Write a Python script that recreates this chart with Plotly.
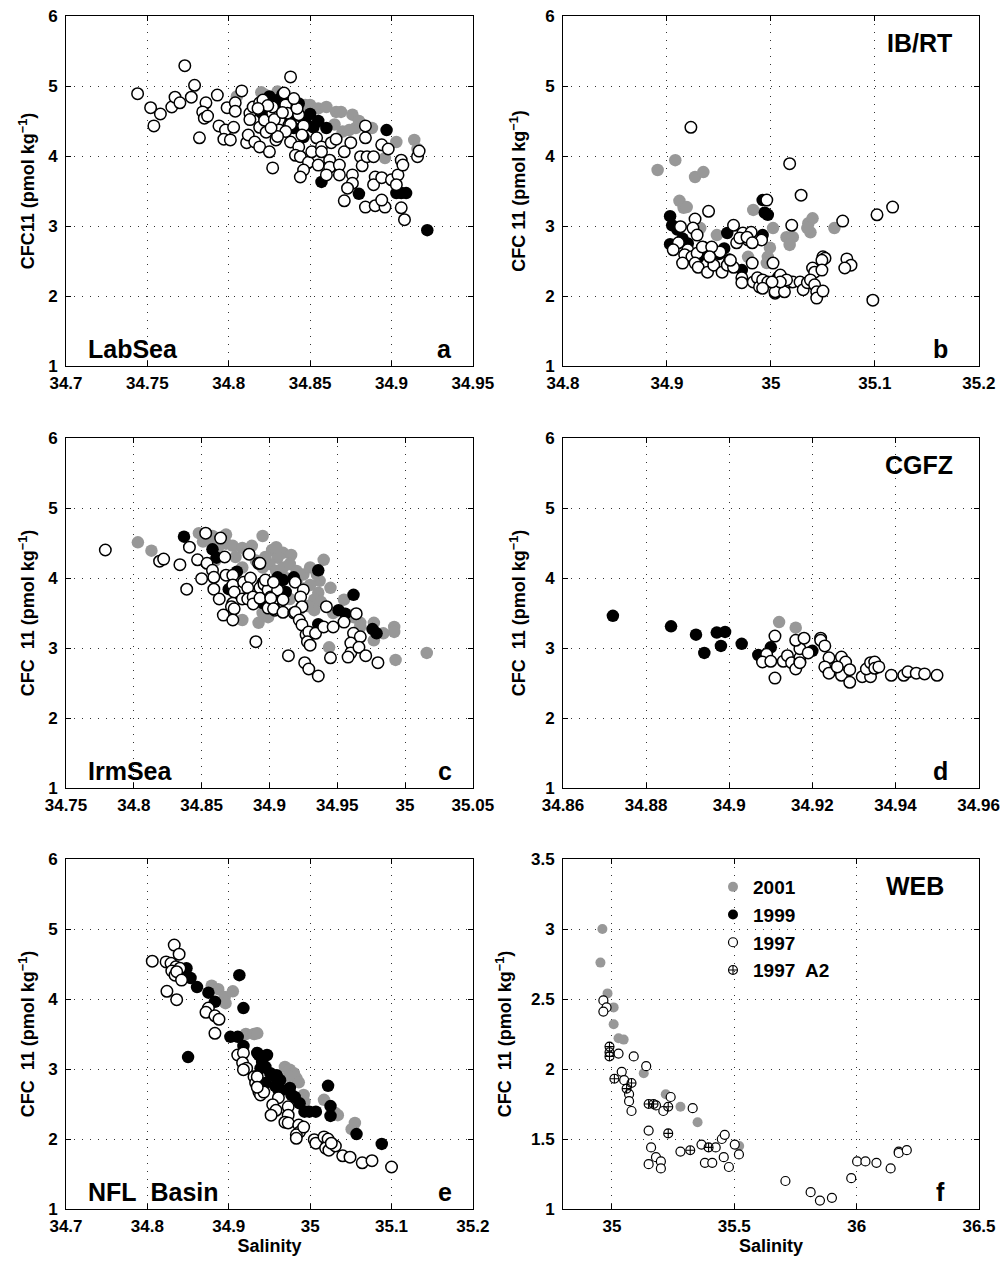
import plotly.graph_objects as go

# ---------------- data (salinity, CFC-11) ----------------
a_2001 = [(34.866,4.63),(34.869,4.63),(34.876,4.59),(34.874,4.37),(34.878,4.40),(34.888,4.40),(34.846,4.40),
          (34.850,4.73),(34.847,4.73),(34.903,4.20),(34.914,4.23),(34.916,4.10),(34.896,3.97),(34.835,4.75),
          (34.820,4.91),(34.805,4.85),(34.822,4.88),(34.855,4.68),(34.860,4.70),(34.842,4.72),(34.830,4.92),
          (34.870,4.35),(34.865,4.45),(34.880,4.50)]
a_1999 = [(34.897,4.37),(34.860,4.40),(34.852,4.41),(34.846,4.27),(34.857,3.63),(34.880,3.46),(34.903,3.47),
          (34.906,3.47),(34.909,3.47),(34.922,2.94),(34.825,4.85),(34.830,4.80),(34.835,4.75),(34.828,4.65),
          (34.840,4.60),(34.845,4.55),(34.838,4.50),(34.820,4.62),(34.832,4.70),(34.850,4.60),(34.848,4.45),
          (34.843,4.75),(34.855,4.50),(34.822,4.55),(34.833,4.88),(34.840,4.40)]
a_1997 = [(34.773,5.29),(34.744,4.89),(34.779,5.01),(34.752,4.69),(34.758,4.60),(34.754,4.43),(34.765,4.70),
          (34.767,4.84),(34.770,4.76),(34.777,4.84),(34.786,4.76),(34.784,4.63),(34.785,4.54),(34.787,4.57),
          (34.782,4.26),(34.793,4.87),(34.794,4.43),(34.798,4.37),(34.797,4.24),(34.801,4.23),(34.803,4.41),
          (34.799,4.69),(34.808,4.93),(34.804,4.76),(34.804,4.64),(34.811,4.19),(34.812,4.30),(34.816,4.20),
          (34.819,4.13),(34.825,4.06),(34.827,3.83),(34.813,4.61),(34.815,4.70),(34.819,4.76),(34.819,4.41),
          (34.822,4.51),(34.823,4.34),(34.827,4.61),(34.829,4.23),(34.838,5.13),(34.834,4.90),(34.827,4.70),
          (34.835,4.73),(34.836,4.61),(34.843,4.59),(34.837,4.44),(34.831,4.37),(34.838,4.20),(34.846,4.43),
          (34.843,4.13),(34.841,4.01),(34.844,3.99),(34.849,3.91),(34.846,3.80),(34.844,3.70),(34.851,4.06),
          (34.854,4.26),(34.857,4.13),(34.857,4.06),(34.855,3.87),(34.862,3.94),(34.862,3.84),(34.860,3.73),
          (34.868,3.87),(34.868,3.73),(34.863,4.19),(34.866,4.24),(34.871,4.06),(34.875,4.19),(34.876,3.73),
          (34.876,3.61),(34.873,3.54),(34.871,3.36),(34.881,3.99),(34.882,3.86),(34.885,3.99),(34.889,3.99),
          (34.884,4.26),(34.884,4.43),(34.884,3.27),(34.890,3.29),(34.890,3.70),(34.889,3.59),(34.894,3.69),
          (34.894,4.16),(34.896,3.27),(34.894,3.37),(34.898,4.10),(34.900,3.66),(34.904,3.73),(34.903,3.59),
          (34.906,3.94),(34.907,3.87),(34.906,3.26),(34.908,3.09),(34.916,3.99),(34.917,4.07),(34.821,4.80),
          (34.828,4.52),(34.833,4.62),(34.838,4.45),(34.824,4.72),(34.842,4.68),(34.845,4.30),(34.835,4.35),
          (34.830,4.28),(34.840,4.82),(34.826,4.40),(34.818,4.68),(34.813,4.52)]

b_2001 = [(34.891,3.80),(34.908,3.94),(34.927,3.70),(34.935,3.77),(34.912,3.36),(34.916,3.26),(34.919,3.27),
          (34.983,3.23),(35.002,2.97),(34.999,2.69),(34.997,2.56),(34.948,2.87),(34.932,2.97),(34.978,2.56),
          (35.015,2.84),(35.021,2.84),(35.018,2.73),(35.036,3.04),(35.040,3.11),(35.038,2.91),(35.035,2.97),
          (35.061,2.97),(34.996,2.47)]
b_1999 = [(34.903,3.14),(34.905,3.01),(34.903,2.74),(34.958,2.90),(34.992,3.37),(34.994,3.19),(34.997,3.16),
          (34.992,2.87),(34.972,2.37),(35.007,2.27),(34.910,2.95),(34.920,2.75),(34.935,2.70),(34.945,2.65),
          (34.940,2.58),(34.950,2.60),(34.930,2.55),(34.960,2.52),(34.955,2.68),(34.915,2.82)]
b_1997 = [(34.923,4.41),(34.940,3.21),(34.927,3.10),(34.913,2.99),(34.925,2.97),(34.929,2.87),(34.964,3.01),
          (34.973,2.90),(34.981,2.91),(34.978,2.80),(34.991,2.80),(34.996,3.37),(34.911,2.76),(34.906,2.66),
          (34.920,2.66),(34.917,2.59),(34.924,2.56),(34.929,2.61),(34.934,2.70),(34.915,2.47),(34.927,2.47),
          (34.930,2.41),(34.939,2.34),(34.945,2.44),(34.953,2.34),(34.958,2.44),(34.964,2.41),(34.967,2.76),
          (34.961,2.51),(34.951,2.63),(34.943,2.70),(34.941,2.56),(34.970,2.83),(34.977,2.84),(34.982,2.76),
          (34.972,2.26),(34.972,2.19),(34.982,2.47),(34.983,2.20),(34.987,2.26),(34.989,2.13),(34.992,2.23),
          (34.997,2.20),(35.004,2.04),(35.002,2.47),(35.018,3.89),(35.029,3.44),(35.020,3.01),(35.069,3.07),
          (35.102,3.16),(35.117,3.27),(35.098,1.94),(35.050,2.56),(35.052,2.54),(35.049,2.51),(35.073,2.53),
          (35.077,2.44),(35.071,2.40),(35.040,2.40),(35.042,2.34),(35.049,2.37),(35.009,2.30),(35.004,2.06),
          (35.013,2.06),(35.018,2.20),(35.021,2.20),(35.015,2.23),(35.009,2.20),(35.001,2.20),(34.992,2.11),
          (35.028,2.20),(35.031,2.09),(35.035,2.19),(35.038,2.23),(35.042,2.16),(35.044,2.06),(35.044,1.97),
          (35.050,2.07)]

c_2001 = [(34.803,4.51),(34.813,4.39),(34.848,4.64),(34.858,4.60),(34.868,4.62),(34.851,4.52),(34.857,4.52),
          (34.868,4.49),(34.862,4.43),(34.873,4.46),(34.880,4.43),(34.887,4.46),(34.895,4.60),(34.884,4.36),
          (34.902,4.40),(34.910,4.36),(34.906,4.29),(34.916,4.33),(34.905,4.44),(34.892,3.36),(34.940,4.26),
          (34.937,3.96),(34.945,3.86),(34.936,3.79),(34.933,3.69),(34.938,3.66),(34.933,3.54),(34.955,3.69),
          (34.947,3.50),(34.962,3.44),(34.967,3.36),(34.967,3.30),(34.977,3.36),(34.984,3.21),(34.992,3.30),
          (34.992,3.23),(34.977,3.11),(34.944,3.01),(34.993,2.83),(35.016,2.93),(34.901,3.59),(34.899,3.44),
          (34.890,4.25),(34.895,4.15),(34.900,4.20),(34.905,4.10),(34.910,4.15),(34.915,4.20),(34.920,4.10),
          (34.925,4.05),(34.930,4.15),(34.920,3.95),(34.925,3.85),(34.930,3.90),(34.915,3.70),(34.910,3.80),
          (34.905,3.90),(34.935,4.05),(34.880,4.15),(34.875,4.30),(34.860,4.25),(34.897,4.30),(34.912,4.00),
          (34.928,3.60),(34.922,3.55),(34.900,3.75),(34.895,3.50),(34.880,3.40)]
c_1999 = [(34.837,4.59),(34.858,4.41),(34.861,4.29),(34.876,4.09),(34.870,3.84),(34.895,3.64),(34.906,4.01),
          (34.918,4.01),(34.936,4.11),(34.895,3.93),(34.897,3.94),(34.912,3.80),(34.951,3.54),(34.956,3.49),
          (34.962,3.76),(34.936,3.34),(34.976,3.27),(34.979,3.21),(34.910,3.97),(34.903,3.60)]
c_1997 = [(34.779,4.40),(34.819,4.24),(34.822,4.27),(34.834,4.19),(34.839,3.84),(34.853,4.64),(34.841,4.44),
          (34.864,4.57),(34.847,4.26),(34.854,4.21),(34.858,4.11),(34.859,4.01),(34.850,3.99),(34.859,3.84),
          (34.863,3.70),(34.867,4.30),(34.868,4.04),(34.873,4.04),(34.873,3.90),(34.874,3.80),(34.873,3.64),
          (34.872,3.59),(34.874,3.56),(34.866,3.47),(34.873,3.40),(34.885,4.34),(34.892,4.21),(34.881,3.94),
          (34.886,4.00),(34.884,3.86),(34.880,3.70),(34.884,3.70),(34.888,3.73),(34.888,3.63),(34.893,3.86),
          (34.893,3.71),(34.896,3.91),(34.899,3.83),(34.899,3.57),(34.901,3.73),(34.904,3.54),(34.903,3.69),
          (34.906,3.83),(34.890,3.09),(34.893,4.21),(34.897,3.97),(34.903,3.94),(34.901,3.71),(34.910,3.69),
          (34.903,3.56),(34.910,3.51),(34.918,3.50),(34.919,3.94),(34.925,3.83),(34.923,3.73),(34.924,3.59),
          (34.919,3.51),(34.922,3.40),(34.924,3.33),(34.927,3.19),(34.929,3.23),(34.928,3.09),(34.930,3.04),
          (34.934,3.21),(34.940,3.30),(34.947,3.30),(34.942,3.59),(34.955,3.37),(34.964,3.49),(34.962,3.21),
          (34.967,3.16),(34.960,3.07),(34.960,2.93),(34.958,2.87),(34.966,3.01),(34.971,2.89),(34.980,2.79),
          (34.945,2.86),(34.926,2.79),(34.929,2.70),(34.914,2.89),(34.936,2.60)]

d_2001 = [(34.912,3.37),(34.916,3.29)]
d_1999 = [(34.872,3.46),(34.886,3.31),(34.892,3.19),(34.894,2.93),(34.897,3.22),(34.899,3.23),(34.898,3.03),
          (34.903,3.06),(34.907,2.90),(34.910,3.01),(34.920,2.96)]
d_1997 = [(34.911,3.17),(34.909,2.91),(34.908,2.80),(34.910,2.81),(34.911,2.57),(34.913,2.81),(34.914,2.89),
          (34.915,2.79),(34.916,2.70),(34.917,2.80),(34.917,2.86),(34.917,2.99),(34.916,3.11),(34.918,3.14),
          (34.919,2.93),(34.917,2.79),(34.922,3.14),(34.922,3.11),(34.923,3.03),(34.924,2.86),(34.923,2.73),
          (34.924,2.64),(34.926,2.73),(34.927,2.87),(34.928,2.80),(34.927,2.61),(34.929,2.69),(34.929,2.51),
          (34.926,2.73),(34.932,2.59),(34.934,2.59),(34.933,2.70),(34.934,2.79),(34.935,2.80),(34.935,2.71),
          (34.936,2.73),(34.939,2.61),(34.942,2.61),(34.943,2.66),(34.945,2.64),(34.947,2.63),(34.950,2.61)]

e_2001 = [(34.879,4.19),(34.887,4.14),(34.895,4.03),(34.896,3.94),(34.905,4.11),(34.921,3.50),(34.931,3.50),
          (34.935,3.51),(34.969,3.03),(34.975,2.99),(34.980,2.94),(34.983,2.87),(34.986,2.81),(34.973,2.89),
          (34.992,2.63),(34.993,2.53),(35.017,2.56),(35.031,2.37),(35.034,2.34),(35.055,2.23),(35.051,2.14)]
e_1999 = [(34.846,4.41),(34.848,4.44),(34.853,4.30),(34.861,4.17),(34.875,4.09),(34.883,3.96),(34.913,4.34),
          (34.918,3.87),(34.850,3.17),(34.902,3.46),(34.911,3.46),(34.918,3.33),(34.937,3.20),(34.947,3.20),
          (34.941,3.10),(34.945,3.03),(34.951,2.94),(34.955,2.91),(34.945,2.80),(34.935,3.23),(34.939,3.01),
          (34.959,2.91),(34.963,2.84),(34.957,2.76),(34.961,2.70),(34.965,2.70),(34.975,2.73),(34.977,2.63),
          (34.981,2.60),(34.987,2.51),(34.993,2.39),(34.999,2.39),(35.007,2.39),(35.022,2.76),(35.025,2.47),
          (35.025,2.33),(35.057,2.07),(35.088,1.93)]
e_1997 = [(34.833,4.77),(34.806,4.54),(34.823,4.53),(34.829,4.51),(34.839,4.64),(34.835,4.46),(34.830,4.40),
          (34.834,4.34),(34.840,4.44),(34.836,4.39),(34.842,4.27),(34.824,4.11),(34.836,3.99),(34.875,3.87),
          (34.872,3.81),(34.883,3.76),(34.888,3.71),(34.883,3.51),(34.911,3.20),(34.918,3.23),(34.917,3.09),
          (34.922,3.01),(34.918,2.99),(34.931,2.89),(34.933,2.80),(34.937,2.67),(34.939,2.63),(34.935,2.89),
          (34.943,2.67),(34.935,2.74),(34.961,2.59),(34.954,2.49),(34.958,2.41),(34.952,2.34),(34.973,2.46),
          (34.973,2.34),(34.969,2.24),(34.973,2.23),(34.986,2.20),(34.987,2.10),(34.983,2.06),(34.992,2.17),
          (34.983,2.01),(35.005,1.99),(35.007,1.94),(35.017,2.03),(35.022,2.00),(35.019,1.87),(35.023,1.84),
          (35.031,1.90),(35.026,1.94),(35.040,1.76),(35.049,1.74),(35.064,1.66),(35.076,1.69),(35.100,1.60)]

f_2001 = [(34.961,3.00),(34.953,2.76),(34.982,2.54),(35.007,2.44),(35.007,2.32),(35.027,2.22),(35.048,2.21),
          (35.130,1.97),(35.220,1.82),(35.280,1.73),(35.350,1.62),(35.520,1.45)]
f_1997 = [(34.965,2.49),(34.978,2.44),(34.965,2.41),(35.027,2.11),(35.089,2.09),(35.040,1.98),(35.050,1.92),
          (35.140,2.02),(35.070,1.82),(35.070,1.77),(35.080,1.70),(35.180,1.74),(35.210,1.70),(35.240,1.80),
          (35.150,1.56),(35.330,1.72),(35.160,1.44),(35.180,1.37),(35.150,1.32),(35.200,1.34),(35.200,1.29),
          (35.280,1.41),(35.366,1.46),(35.380,1.33),(35.410,1.33),(35.424,1.44),(35.449,1.50),(35.461,1.53),
          (35.457,1.37),(35.478,1.30),(35.502,1.46),(35.519,1.39),(35.709,1.20),(35.812,1.12),(35.850,1.06),
          (35.899,1.08),(35.978,1.22),(36.002,1.34),(36.036,1.34),(36.081,1.33),(36.139,1.29),(36.172,1.41),
          (36.172,1.40),(36.205,1.42)]
f_1997A2 = [(34.990,2.16),(34.990,2.12),(34.990,2.09),(35.010,1.93),(35.080,1.90),(35.060,1.86),(35.150,1.75),
            (35.170,1.75),(35.230,1.73),(35.230,1.54),(35.320,1.42),(35.395,1.44)]

series_names = ["2001", "1999", "1997", "1997\u00a0 A2"]

panels = [
    dict(tag="a", name="LabSea", pos="bl", data=[a_2001, a_1999, a_1997, []], xr=[34.7, 34.9501], dx=0.05,
         yr=[1, 6], dy=1, col=0, row=0, ytitle="CFC11 (pmol kg<sup>\u22121</sup>)"),
    dict(tag="b", name="IB/RT", pos="tr", data=[b_2001, b_1999, b_1997, []], xr=[34.8, 35.2001], dx=0.1,
         yr=[1, 6], dy=1, col=1, row=0, ytitle="CFC 11 (pmol kg<sup>\u22121</sup>)"),
    dict(tag="c", name="IrmSea", pos="bl", data=[c_2001, c_1999, c_1997, []], xr=[34.75, 35.0501], dx=0.05,
         yr=[1, 6], dy=1, col=0, row=1, ytitle="CFC\u00a0 11 (pmol kg<sup>\u22121</sup>)"),
    dict(tag="d", name="CGFZ", pos="tr", data=[d_2001, d_1999, d_1997, []], xr=[34.86, 34.9601], dx=0.02,
         yr=[1, 6], dy=1, col=1, row=1, ytitle="CFC\u00a0 11 (pmol kg<sup>\u22121</sup>)"),
    dict(tag="e", name="NFL\u00a0\u00a0Basin", pos="bl", data=[e_2001, e_1999, e_1997, []], xr=[34.7, 35.2001], dx=0.1,
         yr=[1, 6], dy=1, col=0, row=2, ytitle="CFC\u00a0 11 (pmol kg<sup>\u22121</sup>)"),
    dict(tag="f", name="WEB", pos="tr", data=[f_2001, [], f_1997, f_1997A2], xr=[34.8, 36.5001], dx=0.5, x0=35,
         yr=[1, 3.5], dy=0.5, col=1, row=2, ytitle="CFC\u00a0 11 (pmol kg<sup>\u22121</sup>)"),
]

W, H = 1006, 1266
col_dom = [[66 / W, 473 / W], [563 / W, 979 / W]]
row_px = [(16, 366), (438, 788), (859, 1209)]
row_dom = [[1 - b / H, 1 - t / H] for t, b in row_px]

GRAY = "#989898"
FONT = "Liberation Sans, Arial, Helvetica, sans-serif"

fig = go.Figure()
layout = {}
annotations = []

for i, p in enumerate(panels):
    k = "" if i == 0 else str(i + 1)
    small = p["tag"] == "f"
    ms = 9 if small else 11.5
    lw = 1.2 if small else 1.5
    styles = [
        dict(symbol="circle", color=GRAY, size=ms + 1, line=dict(width=0)),
        dict(symbol="circle", color="black", size=ms + 1, line=dict(width=0)),
        dict(symbol="circle", color="white", size=ms, line=dict(color="black", width=lw)),
        dict(symbol="circle-cross-open", color="black", size=ms, line=dict(width=1.1)),
    ]
    for j, pts in enumerate(p["data"]):
        show = small
        if not pts and not (small and j == 1):
            continue
        xs = [q[0] for q in pts] if pts else [None]
        ys = [q[1] for q in pts] if pts else [None]
        fig.add_trace(go.Scatter(x=xs, y=ys, mode="markers", marker=styles[j], name=series_names[j],
                                 showlegend=show, legendrank=j + 1,
                                 xaxis="x" + k, yaxis="y" + k, hoverinfo="x+y"))
    axcommon = dict(showline=True, linecolor="black", linewidth=1, mirror="ticks", ticks="inside",
                    ticklen=5, tickcolor="black", showgrid=True, gridcolor="#333333", gridwidth=1,
                    griddash="1px,7px", zeroline=False, automargin=False,
                    tickfont=dict(family=FONT, size=17, color="black", weight="bold"))
    xa = dict(axcommon, domain=col_dom[p["col"]], range=p["xr"], anchor="y" + k,
              tickmode="linear", tick0=p.get("x0", p["xr"][0]), dtick=p["dx"], ticklabelstandoff=2)
    if p["row"] == 2:
        xa["title"] = dict(text="Salinity", font=dict(family=FONT, size=18, color="black", weight="bold"),
                           standoff=2)
    ya = dict(axcommon, domain=row_dom[p["row"]], range=p["yr"], anchor="x" + k,
              tickmode="linear", tick0=p["yr"][0], dtick=p["dy"], ticklabelstandoff=4,
              title=dict(text=p["ytitle"], font=dict(family=FONT, size=18, color="black", weight="bold"),
                         standoff=8 if p["col"] == 0 else 14))
    layout["xaxis" + k] = xa
    layout["yaxis" + k] = ya

    labfont = dict(family=FONT, size=25, color="black", weight="bold")
    if p["pos"] == "bl":
        annotations.append(dict(text=p["name"], xref="x" + k + " domain", yref="y" + k + " domain",
                                x=0.048, y=0.05, xanchor="left", yanchor="middle", showarrow=False, font=labfont))
    else:
        annotations.append(dict(text=p["name"], xref="x" + k + " domain", yref="y" + k + " domain",
                                x=0.845 if p["tag"] == "f" else 0.856, y=0.922, xanchor="center",
                                yanchor="middle", showarrow=False, font=labfont))
    annotations.append(dict(text=p["tag"], xref="x" + k + " domain", yref="y" + k + " domain",
                            x=0.908 if p["col"] == 1 else 0.93, y=0.048, xanchor="center", yanchor="middle",
                            showarrow=False, font=labfont))

fig.update_layout(
    width=W, height=H, margin=dict(l=0, r=0, t=0, b=0, autoexpand=False),
    paper_bgcolor="white", plot_bgcolor="white",
    font=dict(family=FONT, color="black"),
    annotations=annotations,
    legend=dict(x=713 / W, y=1 - 868 / H, xanchor="left", yanchor="top", bgcolor="rgba(0,0,0,0)",
                font=dict(family=FONT, size=19, color="black", weight="bold"), tracegroupgap=0,
                traceorder="normal"),
    **layout,
)

fig.write_html("out.html", config={"displayModeBar": False},
               post_script="document.body.style.margin='0';")
